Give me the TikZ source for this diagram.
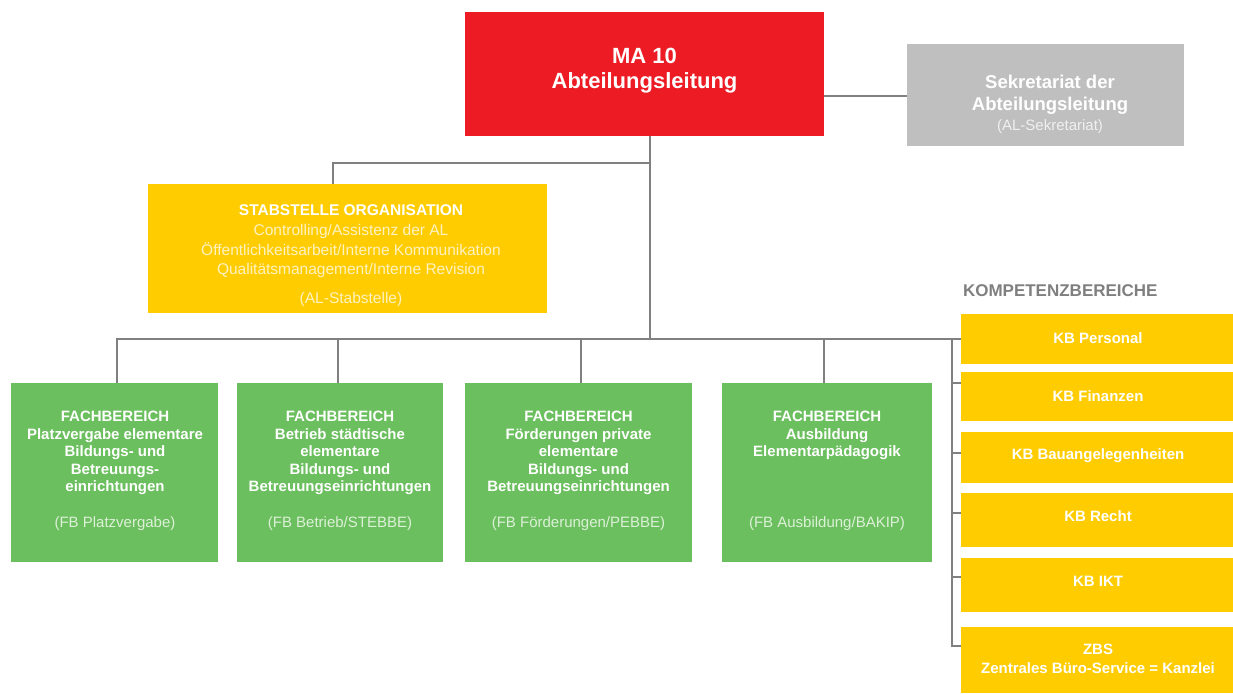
\documentclass[tikz,border=0pt]{standalone}
\usepackage{fontspec}
\setmainfont{Liberation Sans}
\definecolor{mared}{HTML}{ED1C24}
\definecolor{sekgray}{HTML}{BFBFBF}
\definecolor{kbyellow}{HTML}{FFCC00}
\definecolor{fbgreen}{HTML}{6BBF5E}
\definecolor{linegray}{HTML}{808080}
\definecolor{paleyellow}{HTML}{FFF2C2}
\definecolor{palegreen}{HTML}{DDF0D8}
\definecolor{palegray}{HTML}{F0F0F0}
\definecolor{headgray}{HTML}{7F7F7F}
\tikzset{
  conn/.style={draw=linegray, line width=1.8pt},
  box/.style={rectangle, inner sep=0pt, outer sep=0pt},
  fbbox/.style={box, fill=fbgreen, minimum width=#1, minimum height=179pt},
  kbbox/.style={box, fill=kbyellow, minimum width=272pt, minimum height=#1},
  txt/.style={inner sep=0pt, outer sep=0pt, align=center, text=white},
  fbtitle/.style={txt, anchor=north, font=\bfseries\fontsize{15}{17.5}\selectfont},
  fbparen/.style={txt, text=palegreen, font=\fontsize{15}{18}\selectfont},
  kbtxt/.style={txt, font=\bfseries\fontsize{15}{19}\selectfont},
}
\begin{document}
\begin{tikzpicture}[x=1pt, y=-1pt]
\useasboundingbox (0,0) rectangle (1233,693);
% boxes
\node[box, fill=mared, minimum width=359pt, minimum height=124pt] (ma) at (644.5,74) {};
\node[box, fill=sekgray, minimum width=277pt, minimum height=102pt] (sek) at (1045.5,95) {};
\node[box, fill=kbyellow, minimum width=399pt, minimum height=129pt] (stab) at (347.5,248.5) {};
\node[fbbox=207pt] (fb1) at (114.5,472.5) {};
\node[fbbox=206pt] (fb2) at (340,472.5) {};
\node[fbbox=227pt] (fb3) at (578.5,472.5) {};
\node[fbbox=210pt] (fb4) at (827,472.5) {};
\node[kbbox=50pt] (kbp) at (1097,339) {};
\node[kbbox=49pt] (kbf) at (1097,396.5) {};
\node[kbbox=51pt] (kbb) at (1097,457.5) {};
\node[kbbox=54pt] (kbr) at (1097,520) {};
\node[kbbox=54pt] (kbi) at (1097,585) {};
\node[kbbox=66pt] (zbs) at (1097,660) {};
% connectors
\coordinate (j0) at (824,96);
\coordinate (sj) at (650,163);
\coordinate (b1) at (117,339);
\coordinate (b2) at (338,339);
\coordinate (b3) at (581,339);
\coordinate (b4) at (824,339);
\coordinate (bt) at (650,339);
\coordinate (kv) at (952,339);
\draw[conn] (ma.east |- j0) -- (sek.west |- j0);
\draw[conn] (ma.south -| bt) -- (bt);
\draw[conn] (sj) -| ([xshift=-14.5pt]stab.north);
\draw[conn] (b1 |- fb1.north) -- (b1) -- (kbp.west);
\draw[conn] (b2 |- fb2.north) -- (b2);
\draw[conn] (b3 |- fb3.north) -- (b3);
\draw[conn] (b4 |- fb4.north) -- (b4);
\draw[conn] (kv) |- ([yshift=14pt]zbs.west);
\draw[conn] (kv |- 0,383) -- (kbf.west |- 0,383);
\draw[conn] (kv |- 0,453) -- (kbb.west |- 0,453);
\draw[conn] (kv |- 0,513) -- (kbr.west |- 0,513);
\draw[conn] (kv |- 0,577) -- (kbi.west |- 0,577);
% texts
\node[txt, font=\bfseries\fontsize{22}{25}\selectfont] (mat) at (644.5,70.5) {MA 10\\Abteilungsleitung};
\node[txt, font=\bfseries\fontsize{18.5}{22}\selectfont] (sekt) at (1050,94.5) {Sekretariat der\\Abteilungsleitung};
\node[txt, text=palegray, font=\fontsize{15}{18}\selectfont] (sekp) at (1050,126.5) {(AL-Sekretariat)};
\node[txt, font=\bfseries\fontsize{15.5}{20}\selectfont] (stabt) at (351,210.5) {STABSTELLE ORGANISATION};
\node[txt, text=paleyellow, font=\fontsize{15.5}{19.8}\selectfont] (stabl) at (351,251) {Controlling/Assistenz der AL\\Öffentlichkeitsarbeit/Interne Kommunikation\\Qualitätsmanagement/Interne Revision};
\node[txt, text=paleyellow, font=\fontsize{15.5}{19}\selectfont] (stabp) at (351,299.5) {(AL-Stabstelle)};
\node[fbtitle] (fb1t) at (115,411.5) {FACHBEREICH\\Platzvergabe elementare\\Bildungs- und\\Betreuungs-\\einrichtungen};
\node[fbtitle] (fb2t) at (340,411.5) {FACHBEREICH\\Betrieb städtische\\elementare\\Bildungs- und\\Betreuungseinrichtungen};
\node[fbtitle] (fb3t) at (578.5,411.5) {FACHBEREICH\\Förderungen private\\elementare\\Bildungs- und\\Betreuungseinrichtungen};
\node[fbtitle] (fb4t) at (827,411.5) {FACHBEREICH\\Ausbildung\\Elementarpädagogik};
\node[fbparen] (fb1p) at (115,524) {(FB Platzvergabe)};
\node[fbparen] (fb2p) at (340,524) {(FB Betrieb/STEBBE)};
\node[fbparen] (fb3p) at (578.5,524) {(FB Förderungen/PEBBE)};
\node[fbparen] (fb4p) at (827,524) {(FB Ausbildung/BAKIP)};
\node[txt, anchor=west, text=headgray, font=\bfseries\fontsize{17}{19}\selectfont] (kbh) at (963,291) {KOMPETENZBEREICHE};
\node[kbtxt] (kbpt) at (1098,338.5) {KB Personal};
\node[kbtxt] (kbft) at (1098,396.5) {KB Finanzen};
\node[kbtxt] (kbbt) at (1098,455.5) {KB Bauangelegenheiten};
\node[kbtxt] (kbrt) at (1098,516.5) {KB Recht};
\node[kbtxt] (kbit) at (1098,581.5) {KB IKT};
\node[kbtxt] (zbst) at (1098,659) {ZBS\\Zentrales Büro-Service = Kanzlei};
\end{tikzpicture}
\end{document}
